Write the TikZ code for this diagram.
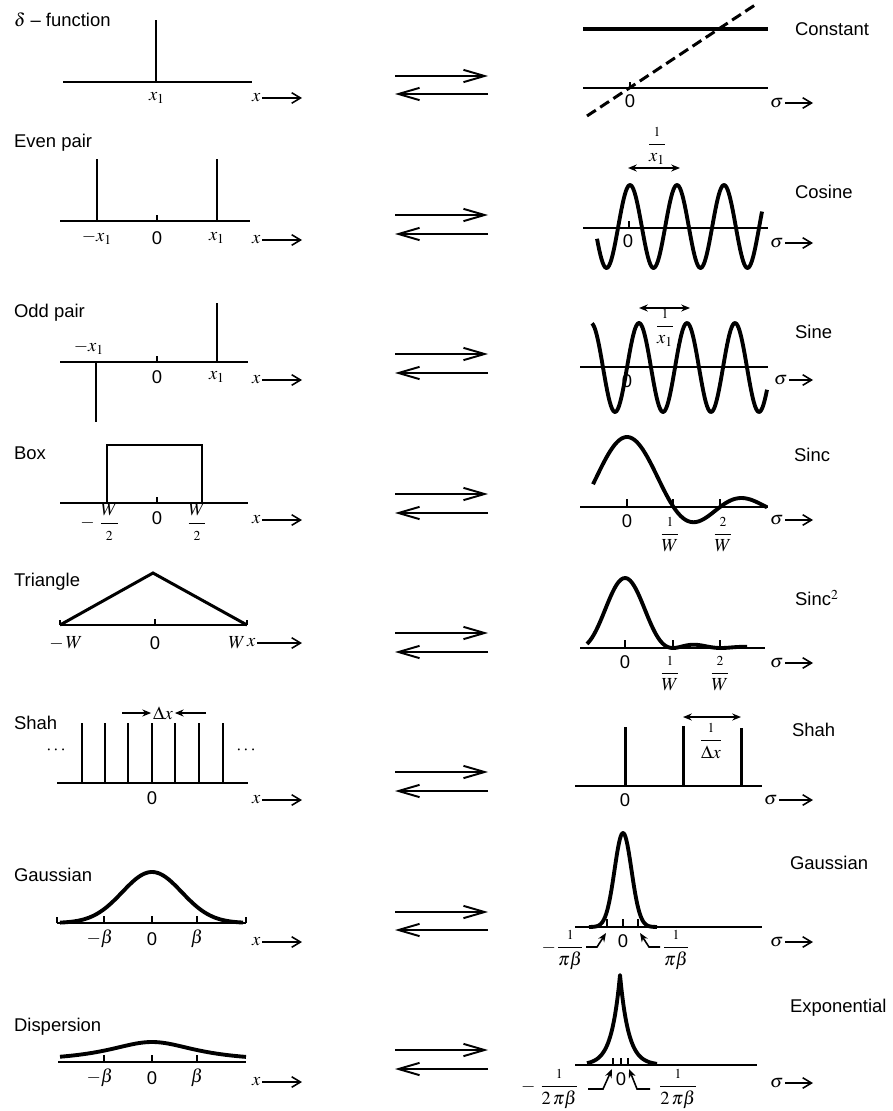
\documentclass[tikz,border=0pt]{standalone}
\usepackage{amsmath}
\usepackage{mathptmx}
\usepackage{fontspec}
\setmainfont{Liberation Sans}
\usepackage{tikz}
\usetikzlibrary{arrows.meta}
\newcommand{\kfrac}[2]{\dfrac{\scriptstyle #1}{#2}}

\begin{document}
\begin{tikzpicture}[
    x=0.02cm, y=-0.02cm,
    every node/.style={font=\fontsize{10.5}{12}\selectfont, inner sep=1pt},
    achse/.style={line width=0.85pt},
    kurve/.style={line width=2.2pt, line join=round},
    spitze/.style={line width=1.7pt},
    strich/.style={line width=0.6pt},
    titel/.style={anchor=west},
    paar/.style={line width=1.1pt, -{Straight Barb[length=12pt, width=7pt]}},
    pfeil/.style={line width=0.9pt, -{Straight Barb[length=5pt, width=6pt]}},
    doppel/.style={line width=0.9pt, {Stealth[length=5pt, width=4pt]}-{Stealth[length=5pt, width=4pt]}},
    zeiger/.style={line width=0.9pt, -{Stealth[length=5pt, width=4pt]}},
  ]
  \useasboundingbox (0,0) rectangle (892,1111);

  % Hin- und Rueckpfeile in der Mitte
  \foreach \yo/\yu in {76/94, 215/234, 354/373, 494/513, 633/652, 772/791, 912/930, 1050/1069} {
    \draw[paar] (395,\yo) -- (488,\yo);
    \draw[paar] (488,\yu) -- (395,\yu);
  }

  % Achsenbeschriftungen x und sigma
  \foreach \i/\xx/\yy in {1/250/98, 2/250/240, 3/250/380, 4/250/520, 5/245/643, 6/250/800, 7/250/942, 8/250/1082} {
    \node[anchor=west] (xl\i) at (\xx,\yy) {$x$};
    \draw[pfeil] (xl\i.east) -- (302,\yy);
  }
  \foreach \i/\xx/\yy in {1/768/103, 2/768/243, 3/772/380, 4/768/520, 5/768/663, 6/762/800, 7/768/942, 8/768/1083} {
    \node[anchor=west] (sl\i) at (\xx,\yy) {$\sigma$};
    \draw[pfeil] (sl\i.east) -- (813,\yy);
  }

  % Delta-Funktion <-> Konstante
  \node[titel] (nDelta) at (12,20) {$\delta$ -- function};
  \draw[achse] (63,82) -- (252,82);
  \draw[spitze] (156,82) -- (156,20);
  \node (lX1a) at (157,98) {$x_1$};
  \draw[kurve] (583,29) -- (768,29);
  \draw[achse] (583,88) -- (768,88);
  \draw[line width=1.7pt, dash pattern=on 6pt off 3pt] (587,116) -- (758,3);
  \draw[strich] (630,88) -- (630,82);
  \node (rNull1) at (630,101) {0};
  \node[titel] (nConst) at (793,29) {Constant};

  % gerades Paar <-> Kosinus
  \node[titel] (nEven) at (12,143) {Even pair};
  \draw[achse] (60,221) -- (250,221);
  \draw[spitze] (97,221) -- (97,159);
  \draw[spitze] (217,221) -- (217,159);
  \draw[strich] (157,221) -- (157,215);
  \node (lMx2) at (97,238) {$-x_1$};
  \node (lNull2) at (157,238) {0};
  \node (lX2) at (217,238) {$x_1$};
  \draw[achse] (583,228) -- (768,228);
  \draw[kurve, domain=597:762, samples=150] plot (\x, {226.5-41.5*cos(7.6596*(\x-630))});
  \draw[strich] (629,228) -- (629,221);
  \node (rNull2) at (628,241) {0};
  \draw[doppel] (628,168) -- (680,168);
  \node (rFr2) at (657,146) {$\kfrac{1}{x_1}$};
  \node[titel] (nCos) at (793,192) {Cosine};

  % ungerades Paar <-> Sinus
  \node[titel] (nOdd) at (12,313) {Odd pair};
  \draw[achse] (60,362) -- (248,362);
  \draw[spitze] (217,362) -- (217,303);
  \draw[spitze] (96,362) -- (96,422);
  \draw[strich] (157,362) -- (157,356);
  \node (lMx3) at (89,348) {$-x_1$};
  \node (lNull3) at (157,377) {0};
  \node (lX3) at (217,377) {$x_1$};
  \draw[achse] (580,367) -- (768,367);
  \draw[kurve, domain=592:767, samples=150] plot (\x, {367.5-44.5*sin(7.5*(\x-627))});
  \node (rNull3) at (627,381) {0};
  \draw[doppel] (639,308) -- (690,308);
  \node (rFr3) at (665,328) {$\kfrac{1}{x_1}$};
  \node[titel] (nSin) at (793,332) {Sine};

  % Rechteck <-> sinc
  \node[titel] (nBox) at (12,453) {Box};
  \draw[achse] (60,503) -- (248,503);
  \draw[spitze] (107,503) -- (107,445) -- (202,445) -- (202,503);
  \draw[strich] (157,503) -- (157,497);
  \node (lMw4) at (100,522) {$-\;\dfrac{W}{\scriptstyle 2}$};
  \node (lNull4) at (157,518) {0};
  \node (lW4) at (197,522) {$\dfrac{W}{\scriptstyle 2}$};
  \draw[achse] (580,507) -- (768,507);
  \draw[kurve, domain=593:767, samples=120]
    plot (\x, {507-70*sin(3.871*(\x-627.01))/(0.06756*(\x-627.01))});
  \foreach \t in {627, 673, 720} {
    \draw[strich] (\t,507) -- (\t,499);
  }
  \node (rNull4) at (627,521) {0};
  \node (rFr4a) at (670,535) {$\kfrac{1}{W}$};
  \node (rFr4b) at (723,535) {$\kfrac{2}{W}$};
  \node[titel] (nSinc) at (792,455) {Sinc};

  % Dreieck <-> sinc^2
  \node[titel] (nTri) at (12,582) {Triangle};
  \draw[achse] (60,625) -- (247,625);
  \draw[spitze] (60,625) -- (153,573) -- (247,625);
  \draw[strich] (60,625) -- (60,620);
  \draw[strich] (247,625) -- (247,620);
  \draw[strich] (155,625) -- (155,619);
  \node (lMw5) at (66,643) {$-\,W$};
  \node (lNull5) at (155,643) {0};
  \node (lW5) at (237,643) {$W$};
  \draw[achse] (580,648) -- (765,648);
  \draw[kurve, domain=587:747, samples=120]
    plot (\x, {648-70*pow(sin(3.75*(\x-625.01))/(0.06545*(\x-625.01)),2)});
  \foreach \t in {625, 673, 720} {
    \draw[strich] (\t,648) -- (\t,640);
  }
  \node (rNull5) at (625,662) {0};
  \node (rFr5a) at (670,674) {$\kfrac{1}{W}$};
  \node (rFr5b) at (720,674) {$\kfrac{2}{W}$};
  \node[titel] (nSinc2) at (793,598) {Sinc$^2$};

  % Kamm <-> Kamm
  \node[titel] (nShahL) at (12,723) {Shah};
  \draw[achse] (57,783) -- (248,783);
  \foreach \s in {82, 105, 128, 152, 175, 199, 223} {
    \draw[line width=1.1pt] (\s,783) -- (\s,723);
  }
  \node (lDotsA) at (57,750) {$\cdots$};
  \node (lDotsB) at (247,750) {$\cdots$};
  \node (lNull6) at (152,798) {0};
  \node (lDx) at (163,713) {$\Delta x$};
  \draw[zeiger] (122,713) -- (lDx.west);
  \draw[zeiger] (206,713) -- (lDx.east);
  \draw[achse] (575,786) -- (762,786);
  \foreach \s/\h in {625/727, 683/726, 741/728} {
    \draw[spitze] (\s,786) -- (\s,\h);
  }
  \draw[doppel] (683,717) -- (741,717);
  \node (rFr6) at (711,741) {$\kfrac{1}{\Delta x}$};
  \node (rNull6) at (625,800) {0};
  \node[titel] (nShahR) at (790,730) {Shah};

  % Gauss <-> Gauss
  \node[titel] (nGaussL) at (12,875) {Gaussian};
  \draw[achse] (57,923) -- (246,923);
  \draw[strich] (57,923) -- (57,917);
  \draw[strich] (246,923) -- (246,917);
  \draw[kurve, domain=60:243, samples=100] plot (\x, {923-51*exp(-pow((\x-152)/42,2))});
  \foreach \t in {104, 152, 197} {
    \draw[strich] (\t,923) -- (\t,916);
  }
  \node (lMb7) at (100,939) {$-\beta$};
  \node (lNull7) at (152,939) {0};
  \node (lB7) at (197,939) {$\beta$};
  \draw[achse] (575,927) -- (762,927);
  \draw[kurve, domain=589:657, samples=80] plot (\x, {927-94*exp(-pow((\x-623)/12,2))});
  \foreach \t in {607, 623, 638} {
    \draw[strich] (\t,927) -- (\t,919);
  }
  \node (rNull7) at (623,941) {0};
  \node (rFr7a) at (563,950) {$-\kfrac{1}{\pi\beta}$};
  \node (rFr7b) at (676,950) {$\kfrac{1}{\pi\beta}$};
  \draw[zeiger] (586,947) -- (597,947) -- (606,933);
  \draw[zeiger] (660,947) -- (649,947) -- (640,933);
  \node[titel] (nGaussR) at (788,863) {Gaussian};

  % Dispersion <-> Exponential
  \node[titel] (nDisp) at (12,1027) {Dispersion};
  \draw[achse] (58,1062) -- (246,1062);
  \draw[kurve, domain=60:246, samples=100] plot (\x, {1062-20/(1+pow((\x-152)/55,2))});
  \foreach \t in {104, 152, 197} {
    \draw[strich] (\t,1062) -- (\t,1055);
  }
  \node (lMb8) at (100,1078) {$-\beta$};
  \node (lNull8) at (152,1078) {0};
  \node (lB8) at (197,1078) {$\beta$};
  \draw[achse] (575,1065) -- (757,1065);
  \draw[kurve, domain=587:657, samples=71] plot (\x, {1065-90*exp(-abs(\x-620)/8.5)});
  \foreach \t in {613, 621, 628} {
    \draw[strich] (\t,1065) -- (\t,1058);
  }
  \node (rNull8) at (621,1079) {0};
  \node (rFr8a) at (550,1089) {$-\;\kfrac{1}{2\,\pi\beta}$};
  \node (rFr8b) at (678,1089) {$\kfrac{1}{2\,\pi\beta}$};
  \draw[zeiger] (588,1089) -- (603,1089) -- (612,1069);
  \draw[zeiger] (650,1089) -- (637,1089) -- (629,1069);
  \node[titel] (nExp) at (788,1008) {Exponential};
\end{tikzpicture}
\end{document}
